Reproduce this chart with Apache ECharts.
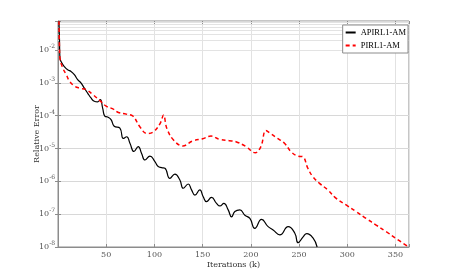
<!DOCTYPE html>
<html><head><meta charset="utf-8">
<script src="https://cdn.jsdelivr.net/npm/echarts@6/dist/echarts.min.js"></script>
<style>html,body{margin:0;padding:0;background:#fff}#c{width:452px;height:278px}</style>
</head><body><div id="c"></div>
<script>
const apirlIter = [1,1.5,2,3,6.5,10,13.5,17,20.4,23.8,27.3,30.7,34.2,37.6,41,43.8,46.3,48.7,51.5,55,58.3,64.2,67.7,71.2,74.6,78.8,83.2,86.7,90.2,95.3,100.5,103.9,107.5,110.9,116,121.2,126.4,129.9,135,138.5,142,147,150.6,154,159.2,164.4,167.9,172,176.5,180,183.4,188.6,193.8,199,204.1,211.1,217.9,223.1,230,238.7,245.6,249,254.2,258,264.6,268.7];
const apirlErr = [7.6e-2,2.34e-2,5.75e-3,4.57e-3,3.16e-3,2.51e-3,2.24e-3,1.78e-3,1.26e-3,1.0e-3,6.92e-4,4.90e-4,3.47e-4,2.75e-4,2.63e-4,3.09e-4,1.70e-4,9.55e-5,9.12e-5,7.59e-5,4.79e-5,4.17e-5,2.04e-5,2.29e-5,1.45e-5,8.13e-6,1.15e-5,7.08e-6,4.47e-6,5.89e-6,3.98e-6,2.82e-6,2.63e-6,2.51e-6,1.23e-6,1.66e-6,1.10e-6,6.17e-7,8.32e-7,5.50e-7,3.80e-7,5.50e-7,3.39e-7,2.40e-7,3.24e-7,2.14e-7,1.78e-7,2.14e-7,1.35e-7,8.32e-8,1.20e-7,1.35e-7,9.33e-8,7.41e-8,3.72e-8,6.92e-8,4.17e-8,3.31e-8,2.34e-8,4.17e-8,2.63e-8,1.35e-8,2.04e-8,2.57e-8,1.86e-8,1.0e-8];
const pirlIter = [1,1.5,2,5,8.6,12,17.3,22.5,29.4,36.3,43.5,50,56.9,62.6,70.7,77.6,85.2,92.1,99,106,109.4,112.9,119.8,129.4,139.7,150,158.7,167.3,177.6,184.5,194.9,204.5,210.4,215.6,220.8,227.7,234.9,241.8,248.7,253.9,259.1,264.3,271.2,279.8,288.5,298.8,309.2,319.5,329.9,340.2,350.6,362];
const pirlErr = [7.6e-2,1.26e-2,5.75e-3,2.82e-3,1.78e-3,1.12e-3,7.94e-4,6.92e-4,6.17e-4,4.37e-4,2.88e-4,1.95e-4,1.62e-4,1.26e-4,1.12e-4,9.8e-5,4.47e-5,2.88e-5,3.24e-5,5.89e-5,1.05e-4,4.07e-5,1.82e-5,1.20e-5,1.70e-5,2.0e-5,2.40e-5,1.91e-5,1.74e-5,1.62e-5,1.15e-5,7.41e-6,1.15e-5,3.55e-5,2.82e-5,2.04e-5,1.45e-5,7.94e-6,5.89e-6,5.62e-6,2.51e-6,1.38e-6,8.71e-7,5.50e-7,3.02e-7,1.91e-7,1.20e-7,7.41e-8,4.68e-8,2.95e-8,1.82e-8,1.07e-8];
const xTicks = [50,100,150,200,250,300,350];
const yTickExps = [-8,-7,-6,-5,-4,-3,-2];
const seriesNames = ['APIRL1-AM','PIRL1-AM'];

const font = '"DejaVu Serif","Liberation Serif",serif';
const minorLines = [];
for (let k = -8; k <= -2; k++) for (let m = 2; m <= 9; m++) { const v = m * Math.pow(10, k); if (v < 0.077) minorLines.push({yAxis: v}); }

function yLabel(v) {
  const l = Math.log10(v), e = Math.round(l);
  if (Math.abs(l - e) > 0.01 || yTickExps.indexOf(e) < 0) return '';
  return '10{s|' + e + '}';
}
const chart = echarts.init(document.getElementById('c'));
chart.setOption({
  animation: false,
  backgroundColor: '#fff',
  grid: {left: 58, right: 43, top: 21, bottom: 31, show: true, borderColor: '#8c8c8c', borderWidth: 1, backgroundColor: 'transparent'},
  legend: {
    orient: 'vertical', right: 44, top: 25, itemWidth: 10, itemHeight: 6, itemGap: 4, z: 20,
    padding: [3, 2, 3, 2], backgroundColor: '#fff', borderColor: '#8c8c8c', borderWidth: 1,
    itemStyle: {opacity: 0},
    textStyle: {fontFamily: '"Liberation Serif",serif', fontSize: 8.5, color: '#000'},
    data: seriesNames
  },
  xAxis: [{
    type: 'value', min: 0, max: 364, interval: 50,
    name: 'Iterations (k)', nameLocation: 'middle', nameGap: 14, nameMoveOverlap: false,
    nameTextStyle: {fontFamily: font, fontSize: 8, color: '#333'},
    axisLine: {show: true, lineStyle: {color: '#8c8c8c'}},
    axisTick: {show: true, inside: true, length: 3, lineStyle: {color: '#8c8c8c'}},
    axisLabel: {fontFamily: font, fontSize: 8, color: '#555', margin: 4,
      formatter: v => xTicks.indexOf(v) >= 0 ? String(v) : ''},
    splitLine: {show: true, lineStyle: {color: '#e2e2e2', width: 1}}
  }, {
    type: 'value', min: 0, max: 364, interval: 50, position: 'top',
    axisLine: {show: false}, axisLabel: {show: false}, splitLine: {show: false},
    axisTick: {show: true, inside: true, length: 3, lineStyle: {color: '#8c8c8c'}}
  }],
  yAxis: [{
    type: 'log', logBase: 10, min: 1e-8, max: 0.077, interval: 1,
    name: 'Relative Error', nameLocation: 'middle', nameGap: 17, nameMoveOverlap: false,
    nameTextStyle: {fontFamily: font, fontSize: 8, color: '#333'},
    axisLine: {show: true, lineStyle: {color: '#8c8c8c'}},
    axisTick: {show: true, inside: true, length: 3, lineStyle: {color: '#8c8c8c'}},
    axisLabel: {fontFamily: font, fontSize: 8, color: '#555', margin: 3, formatter: yLabel,
      rich: {s: {fontFamily: font, fontSize: 6, color: '#555', padding: [0, 0, 7, 0]}}},
    splitLine: {show: true, lineStyle: {color: '#d8d8d8', width: 1}}
  }, {
    type: 'log', logBase: 10, min: 1e-8, max: 0.077, interval: 1, position: 'right',
    axisLine: {show: false}, axisLabel: {show: false}, splitLine: {show: false},
    axisTick: {show: true, inside: true, length: 3, lineStyle: {color: '#8c8c8c'}}
  }],
  series: [{
    type: 'line', name: '_grid', data: [], silent: true, z: 1,
    markLine: {silent: true, z: 1, symbol: 'none', label: {show: false},
      lineStyle: {color: '#e3e3e3', width: 1, type: 'solid'}, data: minorLines}
  }, {
    type: 'line', name: seriesNames[0], showSymbol: false, symbol: 'none', smooth: 0.5, clip: true, z: 3,
    data: apirlIter.map((x, i) => [x, apirlErr[i]]),
    lineStyle: {color: '#000', width: 1.2}, itemStyle: {color: '#000'}
  }, {
    type: 'line', name: seriesNames[1], showSymbol: false, symbol: 'none', smooth: 0.4, clip: true, z: 4,
    data: pirlIter.map((x, i) => [x, pirlErr[i]]),
    lineStyle: {color: '#ff0000', width: 1.5, type: [4, 3]}, itemStyle: {color: '#ff0000'}
  }]
});
</script></body></html>
